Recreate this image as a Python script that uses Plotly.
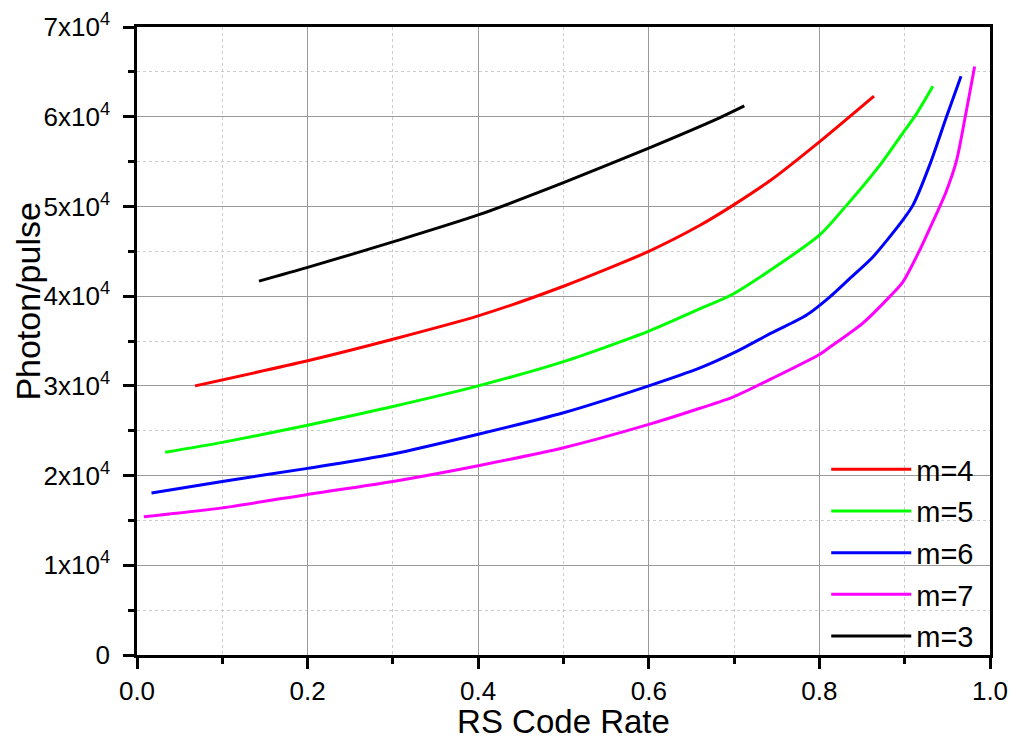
import plotly.graph_objects as go

# Data
m4_x = [0.068, 0.2, 0.3, 0.4, 0.5, 0.6, 0.66, 0.7, 0.744, 0.8, 0.864]
m4_y = [30000, 32800, 35200, 37800, 41100, 45000, 47900, 50200, 53000, 57200, 62300]

m5_x = [0.033, 0.1, 0.2, 0.3, 0.4, 0.5, 0.6, 0.66, 0.7, 0.8, 0.828, 0.871, 0.898, 0.913, 0.933]
m5_y = [22600, 23700, 25600, 27700, 30000, 32700, 36100, 38600, 40300, 46800, 49700, 54600, 58200, 60200, 63400]

m6_x = [0.017, 0.1, 0.2, 0.3, 0.4, 0.5, 0.6, 0.66, 0.7, 0.744, 0.785, 0.812, 0.836, 0.863, 0.898, 0.91, 0.93, 0.949, 0.966]
m6_y = [18060, 19350, 20800, 22400, 24600, 27000, 30000, 32000, 33700, 35900, 37900, 39900, 42000, 44400, 48500, 50200, 54800, 60000, 64500]

m7_x = [0.008, 0.1, 0.2, 0.3, 0.4, 0.5, 0.6, 0.66, 0.7, 0.744, 0.8, 0.812, 0.851, 0.883, 0.898, 0.918, 0.934, 0.948, 0.961, 0.971, 0.982]
m7_y = [15400, 16400, 17900, 19350, 21100, 23100, 25700, 27500, 28800, 30800, 33500, 34300, 37000, 40000, 41600, 45200, 48500, 51500, 55200, 60000, 65600]

m3_x = [0.143, 0.2, 0.3, 0.4, 0.5, 0.6, 0.6835, 0.712]
m3_y = [41670, 43200, 46050, 49050, 52650, 56500, 59900, 61200]

series = [
    ("m=4", m4_x, m4_y, "#ff0000"),
    ("m=5", m5_x, m5_y, "#00ff00"),
    ("m=6", m6_x, m6_y, "#0000ff"),
    ("m=7", m7_x, m7_y, "#ff00ff"),
    ("m=3", m3_x, m3_y, "#000000"),
]

y_tickvals = [0, 10000, 20000, 30000, 40000, 50000, 60000, 70000]
y_ticktext = ["0"] + [f"{i}x10<sup>4</sup>" for i in range(1, 8)]
x_tickvals = [0.0, 0.2, 0.4, 0.6, 0.8, 1.0]
x_ticktext = ["0.0", "0.2", "0.4", "0.6", "0.8", "1.0"]

FONT = "Liberation Sans, Arial, sans-serif"

fig = go.Figure()
for i, (name, xs, ys, col) in enumerate(series):
    fig.add_trace(go.Scatter(
        x=xs, y=ys, mode="lines", name=name,
        line=dict(color=col, width=3, shape="spline", smoothing=0.7),
        legendgroup=f"g{i}",
    ))

axis_common = dict(
    showline=True, linecolor="black", linewidth=2.5, mirror=True,
    ticks="outside", ticklen=11, tickwidth=2.5, tickcolor="black",
    showgrid=True, gridcolor="#9a9a9a", gridwidth=1.2,
    zeroline=False, automargin=False,
    tickfont=dict(family=FONT, size=26, color="black"),
)

fig.update_xaxes(
    range=[0, 1.0], tickvals=x_tickvals, ticktext=x_ticktext,
    title=dict(text="RS Code Rate", font=dict(family=FONT, size=33, color="black"), standoff=3),
    minor=dict(dtick=0.1, ticks="outside", ticklen=6, tickwidth=2.5, tickcolor="black",
               showgrid=True, gridcolor="#cccccc", griddash="dot", gridwidth=1),
    **axis_common,
)
fig.update_yaxes(
    range=[0, 70000], tickvals=y_tickvals, ticktext=y_ticktext,
    ticklabelstandoff=8,
    minor=dict(dtick=5000, ticks="outside", ticklen=6, tickwidth=2.5, tickcolor="black",
               showgrid=True, gridcolor="#cccccc", griddash="dot", gridwidth=1),
    **axis_common,
)

fig.add_annotation(
    text="Photon/pulse", textangle=-90, showarrow=False,
    xref="paper", yref="paper", x=-0.128, y=0.564,
    xanchor="center", yanchor="middle",
    font=dict(family=FONT, size=34, color="black"),
)

fig.update_layout(
    width=1011, height=740,
    margin=dict(l=137, r=21, t=27, b=85),
    plot_bgcolor="white", paper_bgcolor="white",
    font=dict(family=FONT, color="black"),
    legend=dict(
        x=0.808, y=-0.011, xanchor="left", yanchor="bottom",
        bgcolor="rgba(0,0,0,0)", borderwidth=0,
        font=dict(family=FONT, size=29, color="black"),
        tracegroupgap=1, itemwidth=80,
    ),
)

fig.write_html("out.html", config={"displayModeBar": False},
               post_script="document.body.style.margin='0';")
